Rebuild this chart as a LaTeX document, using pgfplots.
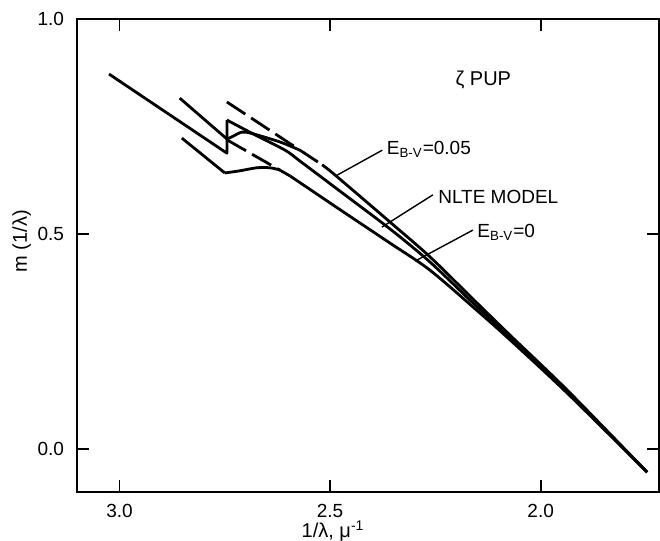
\documentclass[border=0pt]{standalone}
\usepackage{fontspec}
\setmainfont{Liberation Sans}
\usepackage{pgfplots}
\pgfplotsset{compat=1.18}

\begin{document}
\begin{tikzpicture}
\useasboundingbox (-38.5pt,-24.5pt) rectangle (291.5pt,246pt);
\begin{axis}[
  scale only axis,
  width=291pt, height=236.5pt,
  x dir=reverse,
  xmin=1.719, xmax=3.101,
  ymin=-0.1, ymax=1.0,
  xtick={2.0,2.5,3.0}, xticklabels={2.0,2.5,3.0},
  ytick={0,0.5,1.0}, yticklabels={0.0,0.5,1.0},
  tick align=inside,
  major tick length=6pt,
  axis line style={line width=1pt},
  every tick/.style={black, line width=0.9pt},
  tick label style={font=\fontsize{9.5}{11}\selectfont},
  xticklabel style={yshift=-2.5pt},
  yticklabel style={xshift=-3pt},
  xlabel={1/λ, μ\textsuperscript{-1}},
  ylabel={m (1/λ)},
  label style={font=\fontsize{10}{12}\selectfont},
  xlabel style={at={(axis description cs:0.44,0)}, anchor=north, yshift=-11pt},
  ylabel style={at={(axis description cs:-0.095,0.53)}, anchor=center},
  curve/.style={black, solid, line width=1.4pt, line join=round, mark=none},
  smoothcurve/.style={curve, smooth, tension=0.5},
  dashcurve/.style={curve, dash pattern=on 11pt off 3.5pt},
]
% NLTE model: Balmer side and jump
\addplot[curve] coordinates {
  (3.025,0.872) (2.745,0.688) (2.745,0.765)
};
% NLTE model: Paschen side
\addplot[smoothcurve] coordinates {
  (2.745,0.765) (2.683,0.733) (2.607,0.695)
  (2.572,0.670) (2.477,0.600) (2.358,0.512) (2.263,0.435) (2.161,0.340)
  (2.073,0.261) (1.937,0.133) (1.747,-0.054)
};
% E(B-V)=0.05
\addplot[curve] coordinates {
  (2.857,0.816) (2.745,0.721)
};
\addplot[smoothcurve] coordinates {
  (2.745,0.721) (2.733,0.726) (2.709,0.737) (2.683,0.733)
  (2.619,0.714) (2.572,0.695)
};
\addplot[dashcurve] coordinates {
  (2.745,0.807) (2.519,0.661)
};
\addplot[smoothcurve] coordinates {
  (2.519,0.661) (2.488,0.637) (2.358,0.528) (2.263,0.447) (2.161,0.349)
  (2.073,0.265) (1.937,0.137) (1.747,-0.054)
};
% E(B-V)=0
\addplot[curve] coordinates {
  (2.852,0.723) (2.750,0.642)
};
\addplot[smoothcurve] coordinates {
  (2.750,0.642) (2.714,0.647) (2.674,0.654) (2.643,0.654) (2.619,0.649)
};
\addplot[dashcurve] coordinates {
  (2.745,0.719) (2.595,0.635)
};
\addplot[smoothcurve] coordinates {
  (2.595,0.635) (2.477,0.557) (2.358,0.479) (2.263,0.416) (2.144,0.316)
  (2.073,0.254) (1.937,0.130) (1.747,-0.054)
};
% leaders and labels
\draw[line width=0.7pt] (axis cs:2.483,0.637) -- (axis cs:2.376,0.695);
\draw[line width=0.7pt] (axis cs:2.377,0.516) -- (axis cs:2.256,0.591);
\draw[line width=0.7pt] (axis cs:2.298,0.437) -- (axis cs:2.161,0.509);
\node[anchor=base west, inner sep=0pt, font=\fontsize{9.5}{11}\selectfont]
  at (axis cs:2.366,0.684) {E\textsubscript{B-V}=0.05};
\node[anchor=base west, inner sep=0pt, font=\fontsize{9.5}{11}\selectfont]
  at (axis cs:2.244,0.572) {NLTE MODEL};
\node[anchor=base west, inner sep=0pt, font=\fontsize{9.5}{11}\selectfont]
  at (axis cs:2.151,0.491) {E\textsubscript{B-V}=0};
\node[anchor=base west, inner sep=0pt, font=\fontsize{10}{12}\selectfont]
  at (axis cs:2.203,0.8465) {ζ PUP};
\end{axis}
\end{tikzpicture}
\end{document}
